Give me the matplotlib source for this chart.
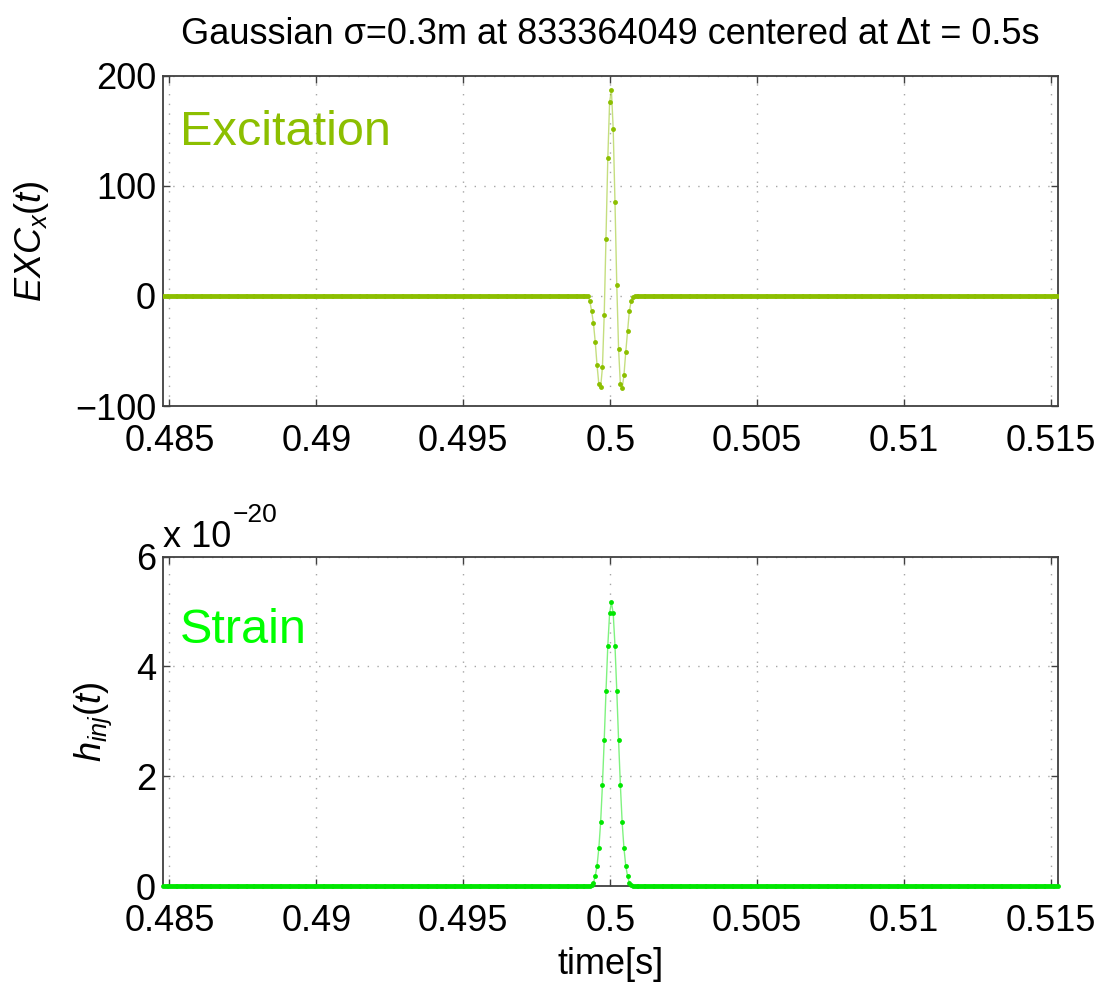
import numpy as np
import matplotlib
matplotlib.use("Agg")
import matplotlib.pyplot as plt

# ---------------- data ----------------
fs = 16384.0                    # samples per second
t_peak = 0.50004                # time of the peak sample [s]
k_first, k_last = -250, 249     # sample index range shown (relative to peak)

# excitation samples around the peak, k = -12 .. 12
exc_k0 = -12
exc_vals = [-5, -14, -25, -42, -63, -80, -83, -65, -17, 52, 125, 176,
            187,
            152, 85, 10, -48, -80, -84, -72, -51, -32, -14, -5, -1]

# strain samples around the peak (units of 1e-20), k = -11 .. 11
strain_k0 = -11
strain_vals = [0.02, 0.06, 0.18, 0.37, 0.69, 1.16, 1.84, 2.66, 3.56, 4.38, 4.97,
               5.17,
               4.97, 4.38, 3.56, 2.66, 1.84, 1.16, 0.69, 0.37, 0.18, 0.06, 0.02]
strain_exp = -20

x_ticks = [0.485, 0.49, 0.495, 0.5, 0.505, 0.51, 0.515]
x_ticklabels = ["0.485", "0.49", "0.495", "0.5", "0.505", "0.51", "0.515"]
exc_yticks = [-100, 0, 100, 200]
strain_yticks = [0, 2, 4, 6]

title = "Gaussian σ=0.3m at 833364049 centered at Δt = 0.5s"

# ---------------- build series ----------------
k = np.arange(k_first, k_last + 1)
t = t_peak + k / fs
exc = np.zeros_like(t)
i0 = exc_k0 - k_first
exc[i0:i0 + len(exc_vals)] = exc_vals
strain = np.zeros_like(t)
j0 = strain_k0 - k_first
strain[j0:j0 + len(strain_vals)] = strain_vals

# ---------------- style ----------------
plt.rcParams['font.family'] = ['Liberation Sans', 'DejaVu Sans']
plt.rcParams['mathtext.fontset'] = 'custom'
plt.rcParams['mathtext.rm'] = 'Liberation Sans'
plt.rcParams['mathtext.it'] = 'Liberation Sans:italic'
plt.rcParams['mathtext.bf'] = 'Liberation Sans:bold'

FS = 26
exc_color = '#8CBF00'
strain_color = '#00E600'
spine_col = '0.25'

W, H = 1097, 986
fig = plt.figure(figsize=(W / 100, H / 100), dpi=100)
ax1 = fig.add_axes([163 / W, 1 - 406 / H, 895 / W, 330.3 / H])
ax2 = fig.add_axes([163 / W, 1 - 886 / H, 895 / W, 329.3 / H])


def style(ax, yticks):
    ax.set_xlim(t[0], t[-1])
    ax.set_xticks(x_ticks)
    ax.set_xticklabels(x_ticklabels)
    ax.set_yticks(yticks)
    ax.set_yticklabels([("−" + str(-v)) if v < 0 else str(v) for v in yticks])
    ax.set_ylim(yticks[0], yticks[-1])
    ax.tick_params(direction='in', length=5, width=1, color=spine_col,
                   top=True, right=True, labelsize=FS)
    ax.tick_params(axis='x', pad=13)
    ax.tick_params(axis='y', pad=5)
    ax.grid(True, linestyle=(0, (1, 6)), color='0.65', linewidth=1.0)
    for s in ax.spines.values():
        s.set_color(spine_col)
        s.set_linewidth(1.3)


style(ax1, exc_yticks)
style(ax2, strain_yticks)

ax1.plot(t, exc, '-', color=exc_color, lw=1.0, alpha=0.5, zorder=3)
ax1.plot(t, exc, 'o', color=exc_color, ms=3.5, mec='none', zorder=3)
ax2.plot(t, strain, '-', color=strain_color, lw=1.0, alpha=0.5, zorder=3,
         clip_on=False)
ax2.plot(t, strain, 'o', color=strain_color, ms=3.5, mec='none', zorder=3,
         clip_on=False)

ax1.text(0.019, 0.79, "Excitation", transform=ax1.transAxes, color=exc_color,
         fontsize=35, ha='left', va='baseline')
ax2.text(0.019, 0.738, "Strain", transform=ax2.transAxes, color='#00FF00',
         fontsize=35, ha='left', va='baseline')

ax1.set_ylabel(r"$EXC_x(t)$", fontsize=FS, labelpad=17)
ax2.set_ylabel(r"$h_{inj}(t)$", fontsize=FS, labelpad=16)
ax2.set_xlabel("time[s]", fontsize=FS, labelpad=6)
ax1.set_title(title, fontsize=FS, pad=23)

# multiplier "x 10^-20" above the strain axes
fig.text(163 / W, 1 - 547 / H, "x 10", fontsize=FS, ha='left', va='baseline')
fig.text(233 / W, 1 - 522 / H, "−" + str(-strain_exp), fontsize=19,
         ha='left', va='baseline')

fig.savefig("out.png", dpi=100)
